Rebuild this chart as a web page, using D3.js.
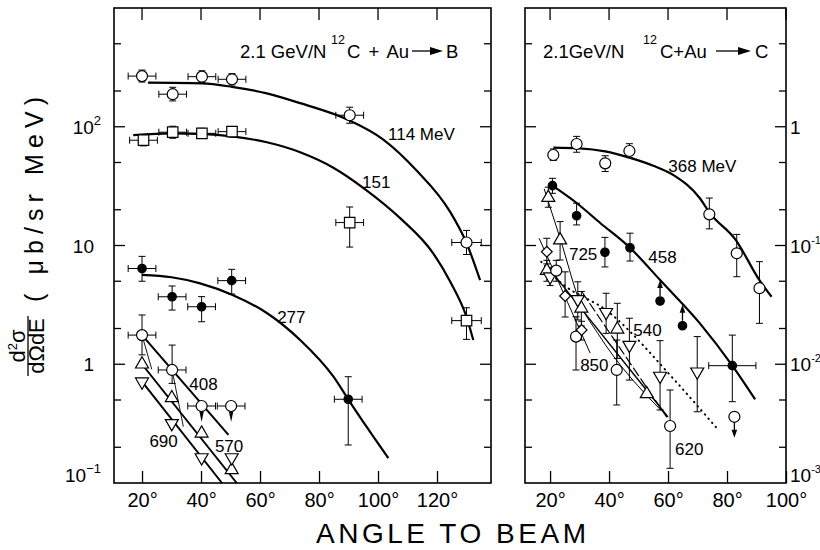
<!DOCTYPE html>
<html>
<head>
<meta charset="utf-8">
<title>12C + Au angular distributions</title>
<script src="https://d3js.org/d3.v7.min.js"></script>
<style>
  body { margin:0; background:#fff; }
  svg { display:block; font-family:'Liberation Sans', Arial, sans-serif; }
  .frame { fill:none; stroke:#000; stroke-width:1.6; }
  .tk { stroke:#000; stroke-width:1.3; }
  .curve { fill:none; stroke:#000; }
  .err { stroke:#000; stroke-width:1; fill:none; }
  .mk { stroke:#000; stroke-width:1.2; }
</style>
</head>
<body>
<svg id="chart"></svg>
<script>
// ---------- data ----------
// left panel (-> B), right panel (-> C)
var angleTicksB = [20, 40, 60, 80, 100, 120];
var angleTicksC = [20, 40, 60, 80, 100];
var minorB = [0.2, 0.5, 2, 5, 20, 50, 200, 500];
var majorB = [1, 10, 100];
var minorC = [0.002, 0.005, 0.02, 0.05, 0.2, 0.5, 2, 5];
var majorC = [0.01, 0.1, 1];
var yLabelsB = [[0.1, '10', '\u22121'], [1, '1', ''], [10, '10', ''], [100, '10', '2']];
var yLabelsC = [[0.001, '10', '-3'], [0.01, '10', '-2'], [0.1, '10', '-1'], [1, '1', '']];

// points: [angle, value, errLo, errHi, dAngle]
var b114 = [[20,267,238,300,4.7],[30.4,188,165,215,4.7],[40.3,264,236,296,4.7],[50.5,251,225,280,4.7],[90.4,125,107,146,4.7],[130,10.6,8.4,13.4,5]];
var b151 = [[20.5,77,69,86,4.7],[30.4,90,80,101,4.7],[40.3,88,80,97,4.7],[50.5,91,82,100,4.7],[90.4,15.6,9.7,21.1,4.7],[130,2.33,1.62,2.99,5]];
var b277 = [[20,6.4,5.0,8.1,4.7],[30.2,3.7,2.86,4.56,4.7],[40.2,3.05,2.28,3.71,4.7],[50.4,5.06,3.9,6.3,4.7],[89.9,0.507,0.209,0.785,4.7]];
var b408 = [[20,1.76,1.2,2.6,4.7],[30.2,0.895,0.69,1.45,4.7]];
var b408Lim = [[40.2,0.445,null,null,4.7],[50.2,0.445,null,null,4.7]];
var b570 = [[20,1.0],[30.1,0.52],[40.2,0.262],[50.4,0.129]];
var b690 = [[20,0.713],[30.1,0.318],[40.2,0.164],[50.4,0.164]];

var b114Fit = [[22,235],[40.3,232],[50.5,217],[62.3,191],[73.6,158],[90,114],[101.8,78],[113,43],[124.4,19.3],[130,10.5],[134.6,5.1]];
var b151Fit = [[17,85],[30,88],[40,87],[50.5,83],[62.3,74],[73.6,61],[85,45],[96,29.3],[107.5,17],[118.7,8.6],[124.4,5.0],[130,2.5],[132.3,1.6]];
var b277Fit = [[20,5.65],[30,5.4],[39.7,4.8],[50.7,3.83],[62.3,2.7],[73.6,1.6],[84.9,0.785],[89.9,0.507],[96.1,0.298],[103.5,0.162]];
var b408Fit = [[20,1.76],[49.3,0.254]];
var b570Fit = [[20,1.0],[52.1,0.1]];
var b690Fit = [[20,0.713],[47.1,0.1]];
var bThin = [[[20,1.76],[23.3,0.907]], [[30.2,0.895],[34,0.298]]];

var c368 = [[21.1,0.578,0.52,0.65],[29,0.716,0.61,0.83],[38.7,0.492,0.42,0.57],[46.9,0.625,0.55,0.72],[74,0.183,0.138,0.251],[83.3,0.086,0.0546,0.124],[91,0.0437,0.0221,0.0731]];
var c368Lim = [[82.5,0.00361]];
var c458 = [[20.8,0.319,0.275,0.368],[29,0.178,0.149,0.227],[38.6,0.0877,0.066,0.117],[47.1,0.0957,0.074,0.127],[81.8,0.00973,0.00484,0.0176,8]];
var c458Lim = [[57.3,0.0341],[64.9,0.0211]];
var c725 = [[19.4,0.253,0.21,0.31],[23.4,0.111,0.0755,0.159],[30.6,0.0296,0.021,0.041],[42.8,0.0197,0.0112,0.0326],[52.8,0.00562],[18.9,0.0614,0.05,0.075]];
var c540 = [[20,0.0546,0.046,0.065],[29.4,0.0352,0.0236,0.0495],[39,0.0274,0.0182,0.0396],[46.9,0.0145,0.00736,0.0244],[57.3,0.00796,0.00412,0.0158],[69.9,0.00865,0.00398,0.0171]];
var c620 = [[22.1,0.0614,0.05,0.075],[28.8,0.0171,0.00895,0.0251],[42.6,0.00895,0.00454,0.016],[60.7,0.00302,0.00133,0.00607]];
var c850 = [[18.9,0.0887,0.07,0.115],[25.1,0.0376,0.025,0.06],[30.7,0.0194,0.016,0.023]];

var c368Fit = [[21.1,0.667],[30,0.658],[38.7,0.62],[46.9,0.55],[55,0.47],[62,0.39],[70.8,0.25],[74,0.19],[83,0.111],[91,0.051],[95.1,0.037]];
var c458Fit = [[20.8,0.319],[29,0.228],[37.1,0.154],[47.1,0.0957],[57.3,0.0512],[70.8,0.0221],[81.8,0.00973],[89.5,0.00507]];
var c725Fit = [[18,0.30],[23.4,0.115],[30.6,0.031],[36,0.0185],[58,0.0040]];
var c620Fit = [[19,0.067],[60,0.0036]];
var cDashFit = [[31,0.040],[59.5,0.0036]];
var c850Fit = [[16.3,0.115],[33.6,0.0124]];
var c540Fit = [[17,0.073],[21.7,0.054],[40.3,0.027],[63,0.007],[76.5,0.0029]];

// curve labels: [text, angle, value] (start of baseline)
var labelsB = [['114 MeV',103.4,77],['151',94.6,30.5],['277',65.8,2.24],['408',36,0.607],['570',44.7,0.184],['690',22.5,0.2]];
var labelsC = [['368 MeV',60.1,0.419],['458',53.3,0.0708],['725',26.4,0.0755],['540',48.2,0.0173],['850',30.2,0.00883],['620',62.4,0.00172]];

// ---------- drawing ----------
var svg = d3.select('#chart').attr('width', 820).attr('height', 550);

var B = { x: d3.scaleLinear().domain([10.5, 138.3]).range([114, 491]),
          y: d3.scaleLog().domain([0.1, 1000]).range([483, 8]) };
var C = { x: d3.scaleLinear().domain([11.5, 100]).range([525, 786]),
          y: d3.scaleLog().domain([0.001, 10]).range([483, 8]) };

function panel(p, xTicks, minor, major, labels, labelSide) {
  var x0 = p.x.range()[0], x1 = p.x.range()[1], yt = p.y.range()[1], yb = p.y.range()[0];
  svg.append('rect').attr('class', 'frame')
    .attr('x', x0).attr('y', yt).attr('width', x1 - x0).attr('height', yb - yt);

  var gx = svg.append('g').attr('transform', 'translate(0,' + yb + ')')
    .call(d3.axisBottom(p.x).tickValues(xTicks).tickSizeInner(-12).tickSizeOuter(0)
      .tickPadding(8).tickFormat(function (d) { return d + '\u00b0'; }));
  gx.attr('font-family', null).attr('font-size', 20);
  gx.select('.domain').remove();
  gx.selectAll('line').attr('stroke-width', 1.3);
  gx.selectAll('text').attr('dy', '0.8em');

  // top ticks
  svg.append('g').selectAll('line').data(xTicks).enter().append('line')
    .attr('class', 'tk')
    .attr('x1', function (d) { return p.x(d); }).attr('x2', function (d) { return p.x(d); })
    .attr('y1', yt).attr('y2', yt + 12);

  // y ticks on both sides
  var ticks = minor.map(function (v) { return [v, 7]; }).concat(major.map(function (v) { return [v, 11]; }));
  var gy = svg.append('g');
  gy.selectAll('line.l').data(ticks).enter().append('line').attr('class', 'tk l')
    .attr('x1', x0).attr('x2', function (d) { return x0 + d[1]; })
    .attr('y1', function (d) { return p.y(d[0]); }).attr('y2', function (d) { return p.y(d[0]); });
  gy.selectAll('line.r').data(ticks).enter().append('line').attr('class', 'tk r')
    .attr('x1', x1).attr('x2', function (d) { return x1 - d[1]; })
    .attr('y1', function (d) { return p.y(d[0]); }).attr('y2', function (d) { return p.y(d[0]); });

  var tl = svg.append('g').attr('font-size', 19).selectAll('text').data(labels).enter().append('text')
    .attr('y', function (d) { return Math.min(p.y(d[0]) + 7, yb - 1); });
  if (labelSide === 'left') {
    tl.attr('text-anchor', 'end').attr('x', function (d) { return d[2] ? 101 : 94; });
  } else {
    tl.attr('text-anchor', 'start').attr('x', 790);
  }
  tl.append('tspan').text(function (d) { return d[1]; });
  tl.append('tspan').attr('dy', -9).attr('font-size', labelSide === 'left' ? 13 : 11)
    .text(function (d) { return d[2]; });
}

panel(B, angleTicksB, minorB, majorB, yLabelsB, 'left');
panel(C, angleTicksC, minorC, majorC, yLabelsC, 'right');

function curve(p, pts, width, dash) {
  var line = d3.line().x(function (d) { return p.x(d[0]); }).y(function (d) { return p.y(d[1]); })
    .curve(d3.curveMonotoneX);
  var path = svg.append('path').datum(pts).attr('class', 'curve')
    .attr('stroke-width', width).attr('d', line);
  if (dash) path.attr('stroke-dasharray', dash).attr('stroke-linecap', 'round');
}

function errors(p, pts) {
  var g = svg.append('g').attr('class', 'err');
  pts.forEach(function (d) {
    var x = p.x(d[0]), y = p.y(d[1]);
    if (d[2] != null) {
      var ylo = p.y(d[2]), yhi = p.y(d[3]);
      g.append('line').attr('x1', x).attr('x2', x).attr('y1', ylo).attr('y2', yhi);
      g.append('line').attr('x1', x - 3.5).attr('x2', x + 3.5).attr('y1', ylo).attr('y2', ylo);
      g.append('line').attr('x1', x - 3.5).attr('x2', x + 3.5).attr('y1', yhi).attr('y2', yhi);
    }
    if (d[4]) {
      var xl = p.x(d[0] - d[4]), xr = p.x(d[0] + d[4]);
      g.append('line').attr('x1', xl).attr('x2', xr).attr('y1', y).attr('y2', y);
      g.append('line').attr('x1', xl).attr('x2', xl).attr('y1', y - 3.5).attr('y2', y + 3.5);
      g.append('line').attr('x1', xr).attr('x2', xr).attr('y1', y - 3.5).attr('y2', y + 3.5);
    }
  });
}

var shapes = {
  circle: { type: d3.symbolCircle, size: 95, fill: '#fff', rot: 0 },
  dot: { type: d3.symbolCircle, size: 56, fill: '#000', rot: 0 },
  square: { type: d3.symbolSquare, size: 110, fill: '#fff', rot: 0 },
  tri: { type: d3.symbolTriangle, size: 73, fill: '#fff', rot: 0 },
  tridn: { type: d3.symbolTriangle, size: 73, fill: '#fff', rot: 180 },
  diamond: { type: d3.symbolSquare, size: 58, fill: '#fff', rot: 45 }
};

function markers(p, pts, shape) {
  var s = shapes[shape];
  svg.append('g').selectAll('path').data(pts).enter().append('path')
    .attr('class', 'mk').attr('fill', s.fill)
    .attr('d', d3.symbol().type(s.type).size(s.size))
    .attr('transform', function (d) {
      return 'translate(' + p.x(d[0]) + ',' + p.y(d[1]) + ') rotate(' + s.rot + ')';
    });
}

function limits(p, pts, dir, style) {
  var g = svg.append('g');
  pts.forEach(function (d) {
    var x = p.x(d[0]), y = p.y(d[1]);
    if (style === 'wedge') {
      g.append('path').attr('fill', '#000')
        .attr('d', 'M' + (x - 2.5) + ',' + (y + 4) + 'L' + (x + 2.5) + ',' + (y + 4) + 'L' + x + ',' + (y + 16) + 'Z');
    } else {
      var s = dir === 'up' ? -1 : 1, y0 = y + s * 5, tip = y + s * 21;
      g.append('line').attr('class', 'tk').attr('x1', x).attr('x2', x).attr('y1', y0).attr('y2', tip - s * 5);
      g.append('path').attr('fill', '#000')
        .attr('d', 'M' + (x - 2.8) + ',' + (tip - s * 8) + 'L' + (x + 2.8) + ',' + (tip - s * 8) + 'L' + x + ',' + tip + 'Z');
    }
  });
}

// left panel
curve(B, b114Fit, 2.2); curve(B, b151Fit, 2.2); curve(B, b277Fit, 2.2);
curve(B, b408Fit, 2); curve(B, b570Fit, 2); curve(B, b690Fit, 2);
bThin.forEach(function (l) { curve(B, l, 0.9); });
[b114, b151, b277, b408, b408Lim].forEach(function (s) { errors(B, s); });
limits(B, b408Lim, 'down', 'wedge');
markers(B, b114, 'circle'); markers(B, b151, 'square'); markers(B, b277, 'dot');
markers(B, b408, 'circle'); markers(B, b408Lim, 'circle');
markers(B, b570, 'tri'); markers(B, b690, 'tridn');

// right panel
curve(C, c368Fit, 2.2); curve(C, c458Fit, 2.2);
curve(C, c725Fit, 1); curve(C, c620Fit, 1.4); curve(C, cDashFit, 1.2, '9,4');
curve(C, c850Fit, 1); curve(C, c540Fit, 2, '0.5,5');
[c368, c458, c725, c540, c620, c850].forEach(function (s) { errors(C, s); });
limits(C, c458Lim, 'up'); limits(C, c368Lim, 'down');
markers(C, c368, 'circle'); markers(C, c368Lim, 'circle');
markers(C, c458, 'dot'); markers(C, c458Lim, 'dot');
markers(C, c725, 'tri'); markers(C, c540, 'tridn');
markers(C, c620, 'circle'); markers(C, c850, 'diamond');

// curve labels
function curveLabels(p, labels) {
  svg.append('g').attr('font-size', 17).selectAll('text').data(labels).enter().append('text')
    .attr('x', function (d) { return p.x(d[1]); }).attr('y', function (d) { return p.y(d[2]); })
    .text(function (d) { return d[0]; });
}
curveLabels(B, labelsB);
curveLabels(C, labelsC);

// reaction titles
function title(parts, letter) {
  var g = svg.append('g').attr('font-size', 18.5);
  g.append('text').attr('x', parts[0]).attr('y', 58).text(parts[1]);
  g.append('text').attr('x', parts[2]).attr('y', 44).attr('font-size', 12.5).text('12');
  g.append('text').attr('x', parts[3]).attr('y', 58).attr('word-spacing', parts[4]).text(parts[5]);
  g.append('line').attr('class', 'tk').attr('x1', parts[6]).attr('x2', parts[7] - 8).attr('y1', 51).attr('y2', 51);
  g.append('path').attr('fill', '#000')
    .attr('d', 'M' + (parts[7] - 13) + ',47L' + parts[7] + ',51L' + (parts[7] - 13) + ',55Z');
  g.append('text').attr('x', parts[8]).attr('y', 58).text(letter);
}
title([240, '2.1 GeV/N', 331, 347, 3, 'C + Au', 412, 443, 446], 'B');
title([543, '2.1GeV/N', 643, 660, 0, 'C+Au', 716, 751, 755], 'C');

// axis titles
svg.append('text').attr('x', 316).attr('y', 543).attr('font-size', 28)
  .attr('textLength', 270).attr('lengthAdjust', 'spacing').text('ANGLE TO BEAM');

var yt = svg.append('g').attr('font-size', 22);
yt.append('text').attr('transform', 'translate(43,302) rotate(-90)').attr('font-size', 25)
  .attr('textLength', 205).attr('lengthAdjust', 'spacing').text('( \u03bcb/sr  MeV)');
yt.append('text').attr('transform', 'translate(25,346) rotate(-90)').attr('text-anchor', 'middle')
  .html('d<tspan dy="-8" font-size="13">2</tspan><tspan dy="8">\u03c3</tspan>');
yt.append('line').attr('class', 'tk').attr('x1', 28).attr('x2', 28).attr('y1', 316).attr('y2', 376);
yt.append('text').attr('transform', 'translate(44,346) rotate(-90)').attr('text-anchor', 'middle')
  .text('d\u03a9dE');
</script>
</body>
</html>
